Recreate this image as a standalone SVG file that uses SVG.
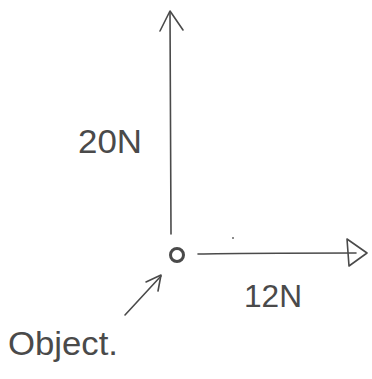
<svg xmlns="http://www.w3.org/2000/svg" width="372" height="379" viewBox="0 0 372 379">
<style>
.ln{fill:none;stroke:#4a4a4a;stroke-width:1.6;stroke-linecap:round;stroke-linejoin:round}
.lb{font-family:"Liberation Sans",Arial,sans-serif;fill:#4a4a4a;font-weight:normal}
</style>
<rect width="372" height="379" fill="#ffffff"/>
<g id="connectors">
<path class="ln" d="M171,234 L170,12"/>
<path class="ln" d="M160,31 L170,11 L183,30"/>
<path class="ln" d="M198,254 C240,253 300,253 356,253"/>
<path class="ln" d="M347,239 L367,253 L349,266 Z"/>
<path class="ln" d="M125,315 L161,276"/>
<path class="ln" d="M146,282 L161,275 L158,291"/>
</g>
<g id="object">
<circle cx="177" cy="255" r="6.5" fill="none" stroke="#4a4a4a" stroke-width="3"/>
<circle cx="233" cy="238" r="1" fill="#666"/>
</g>
<g id="label-20N"><text class="lb" x="78" y="153" font-size="34" textLength="64" lengthAdjust="spacingAndGlyphs">20N</text></g>
<g id="label-12N"><text class="lb" x="244" y="307" font-size="32" textLength="58" lengthAdjust="spacingAndGlyphs">12N</text></g>
<g id="label-object"><text class="lb" x="8" y="355" font-size="34" textLength="110" lengthAdjust="spacingAndGlyphs">Object.</text></g>
</svg>
